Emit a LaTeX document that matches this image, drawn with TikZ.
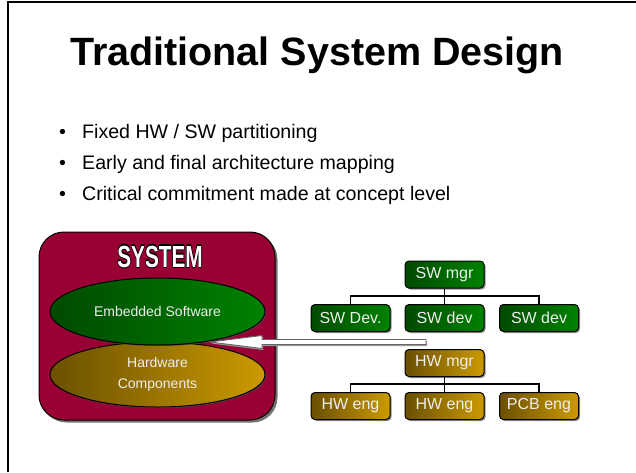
\documentclass[tikz,border=0pt]{standalone}
\usepackage{fontspec}
\setmainfont{Liberation Sans}
\usetikzlibrary{shapes.geometric,shadows}
\definecolor{crimson}{HTML}{990033}
\definecolor{gdark}{HTML}{004A00}
\definecolor{glight}{HTML}{008200}
\definecolor{ydark}{HTML}{6A5000}
\definecolor{ylight}{HTML}{CC9A00}
\definecolor{txtlight}{HTML}{EEEEEE}
\newcommand{\outlinedtext}[1]{%
  \makebox[0pt]{\color{black}\raisebox{0.9pt}{\makebox[0pt]{\hspace*{0.9pt}#1}}}%
  \makebox[0pt]{\color{black}\raisebox{-0.9pt}{\makebox[0pt]{\hspace*{0.9pt}#1}}}%
  \makebox[0pt]{\color{black}\raisebox{0.9pt}{\makebox[0pt]{\hspace*{-0.9pt}#1}}}%
  \makebox[0pt]{\color{black}\raisebox{-0.9pt}{\makebox[0pt]{\hspace*{-0.9pt}#1}}}%
  \makebox[0pt]{\color{black}\raisebox{1.2pt}{\makebox[0pt]{#1}}}%
  \makebox[0pt]{\color{black}\raisebox{-1.2pt}{\makebox[0pt]{#1}}}%
  \makebox[0pt]{\color{black}\makebox[0pt]{\hspace*{1.2pt}#1}}%
  \makebox[0pt]{\color{black}\makebox[0pt]{\hspace*{-1.2pt}#1}}%
  \makebox[0pt]{\color{white}\makebox[0pt]{#1}}}
\tikzset{
  bul/.style={anchor=base west, inner sep=0pt, font=\fontsize{19.6}{24}\selectfont},
  sysbox/.style={draw=black, line width=1pt, fill=crimson, rounded corners=25pt,
    minimum width=236pt, minimum height=188pt, inner sep=0pt,
    drop shadow={shadow xshift=2.5pt, shadow yshift=-2.5pt, fill=black!55, opacity=1}},
  blob/.style={ellipse, draw=black, line width=1pt, minimum width=215pt, inner sep=0pt,
    text=txtlight, font=\fontsize{14}{21}\selectfont, align=center,
    drop shadow={shadow xshift=1pt, shadow yshift=-1pt, fill=black!70, opacity=1}},
  swblob/.style={blob, minimum height=67pt, left color=gdark, right color=glight},
  hwblob/.style={blob, minimum height=65pt, left color=ydark, right color=ylight},
  orgbox/.style={draw=black, line width=1pt, rounded corners=4pt, minimum width=79pt,
    minimum height=27pt, inner sep=0pt, text=txtlight, font=\fontsize{16}{19}\selectfont,
    drop shadow={shadow xshift=1.5pt, shadow yshift=-1.5pt, fill=black!45, opacity=1}},
  swbox/.style={orgbox, left color=gdark, right color=glight},
  hwbox/.style={orgbox, left color=ydark, right color=ylight},
  conn/.style={draw=black, line width=1.5pt},
  hollow/.style={draw=black!60, line width=0.9pt, fill=white,
    drop shadow={shadow xshift=1pt, shadow yshift=-1.5pt, fill=black!40, opacity=1}}
}
\begin{document}
\begin{tikzpicture}[x=1pt,y=-1pt]
\useasboundingbox (0,0) rectangle (636,472);
% frame
\draw[line width=2pt] (8,472) -- (8,1.5) -- (636,1.5);
% title
\node[anchor=base, inner sep=0pt, font=\fontsize{39.5}{46}\selectfont\bfseries] (title) at (317,65) {Traditional System Design};
% bullets
\node[bul] (d1) at (59,138) {\textbullet};
\node[bul] (t1) at (82,138) {Fixed HW / SW partitioning};
\node[bul] (d2) at (59,169) {\textbullet};
\node[bul] (t2) at (82,169) {Early and final architecture mapping};
\node[bul] (d3) at (59,200) {\textbullet};
\node[bul] (t3) at (82,200) {Critical commitment made at concept level};
% system box
\node[sysbox] (sys) at (157,326) {};
\node[inner sep=0pt, anchor=base, font=\fontsize{30.5}{32}\selectfont\bfseries] (systitle) at (160,267)
  {\scalebox{0.68}[1]{\outlinedtext{SYSTEM}}};
\node[hwblob] (hw) at (157.5,374.5) {Hardware\\Components};
\node[swblob] (sw) at (157.5,311.5) {\raisebox{-3pt}{Embedded Software}};
% org chart
\node[swbox] (swmgr) at (444.5,274.5) {SW mgr};
\node[swbox] (sw1) at (350.5,318) {SW Dev.};
\node[swbox] (sw2) at (444.5,318) {SW dev};
\node[swbox] (sw3) at (539,318) {SW dev};
\node[hwbox] (hwmgr) at (444.5,363) {HW mgr};
\node[hwbox] (hw1) at (350.5,406) {HW eng};
\node[hwbox] (hw2) at (444.5,406) {HW eng};
\node[hwbox] (hw3) at (539,406) {PCB eng};
\coordinate (swbar) at (444.5,296);
\coordinate (hwbar) at (444.5,384);
\draw[conn] (swmgr.south) -- (sw2.north);
\draw[conn] (sw1.north) |- (swbar) -| (sw3.north);
\draw[conn] (hwmgr.south) -- (hw2.north);
\draw[conn] (hw1.north) |- (hwbar) -| (hw3.north);
% hollow arrow
\coordinate (arrtail) at (426,342);
\coordinate (arrtip) at (210,342);
\path[hollow] (arrtip) -- ++(52,-6.5) -- ++(0,4) -- (arrtail |- 0,339.5) -- (arrtail |- 0,344.5)
  -- (262,344.5) -- ++(0,4) -- cycle;
\end{tikzpicture}
\end{document}
